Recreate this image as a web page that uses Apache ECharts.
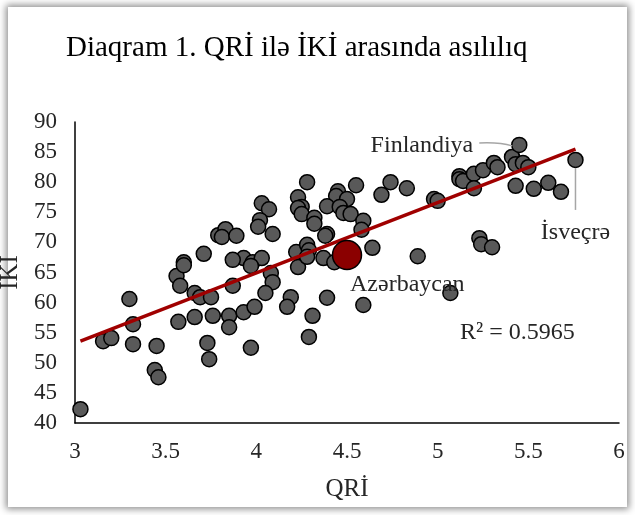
<!DOCTYPE html>
<html>
<head>
<meta charset="utf-8">
<script src="https://cdn.jsdelivr.net/npm/echarts@6/dist/echarts.min.js"></script>
<style>
html,body{margin:0;padding:0;background:#fff;}
#frame{position:absolute;left:8px;top:7px;width:619px;height:500px;background:#fff;box-shadow:0 0 7px 2px rgba(0,0,0,0.45);}
#chart{position:absolute;left:0;top:0;width:635px;height:515px;}
</style>
</head>
<body>
<div id="frame"></div>
<div id="chart"></div>
<script>
// QRİ (x) and İKİ (y) values for countries
const qri = [3.03,3.155,3.20,3.30,3.32,3.32,3.45,3.44,3.46,3.56,3.58,3.60,3.60,3.57,3.66,3.69,3.75,3.87,3.66,3.76,3.85,3.85,3.93,3.99,3.73,3.74,3.97,3.71,3.79,3.83,3.81,3.89,3.93,3.87,3.98,4.03,3.97,4.03,4.07,4.02,4.01,4.09,4.08,4.09,4.05,4.19,4.17,4.23,4.22,4.28,4.29,4.28,4.37,4.43,4.39,4.59,4.31,4.29,4.64,4.89,4.28,4.55,4.74,4.83,4.69,4.45,4.44,4.50,4.23,4.25,4.23,4.25,4.39,4.46,4.48,4.52,4.32,4.32,4.59,4.58,4.39,4.38,4.98,5.00,5.07,5.12,5.12,5.14,5.20,5.25,5.31,5.33,5.20,5.41,5.45,5.43,5.47,5.50,5.43,5.53,5.61,5.68,5.76,5.23,5.24,5.30];
const iki = [42.3,53.6,54.1,60.6,56.4,53.1,52.8,48.8,47.6,64.4,62.8,66.7,66.2,56.8,61.6,60.9,60.9,62.8,57.6,57.8,57.8,55.9,58.4,59.3,53.3,50.6,52.5,68.1,71.2,72.2,70.9,71.1,67.4,67.1,66.7,67.4,66.1,76.5,75.5,73.7,72.6,71.4,64.9,63.4,61.6,60.9,59.3,65.9,68.4,69.6,68.7,67.6,67.4,66.7,60.8,59.6,57.8,54.3,69.1,67.7,80.0,79.5,80.0,79.0,77.9,78.5,77.7,77.2,77.5,75.9,75.7,74.7,76.0,75.9,74.9,74.7,74.1,73.1,73.6,72.1,71.4,71.1,77.2,76.9,61.6,81.0,80.5,80.2,81.4,82.0,83.2,82.5,79.0,84.2,86.2,83.0,83.2,82.5,79.4,78.9,79.9,78.4,83.7,70.7,69.7,69.2];
const azerbaijan = [4.50, 67.9];
const finland = [5.45, 86.2];
const sweden = [5.76, 83.7];
// Linear trend line endpoints
const trendX = [3.03, 5.76];
const trendY = [53.6, 85.5];
const rSquared = 'R² = 0.5965';
const xTicks = [3, 3.5, 4, 4.5, 5, 5.5, 6];
const yTicks = [40, 45, 50, 55, 60, 65, 70, 75, 80, 85, 90];

const FONT = '"Liberation Serif","Times New Roman",serif';
const chart = echarts.init(document.getElementById('chart'), null, {renderer:'canvas'});
const points = qri.map((x, i) => [x, iki[i]]);
const trend = trendX.map((x, i) => [x, trendY[i]]);

chart.setOption({
  backgroundColor: 'transparent',
  animation: false,
  title: {
    text: 'Diaqram 1. QRİ ilə İKİ arasında asılılıq',
    left: 61, top: 29,
    textStyle: {fontFamily: FONT, fontSize: 29, fontWeight: 'normal', color: '#000'}
  },
  grid: {left: 75, right: 16, top: 122, bottom: 92, containLabel: false, outerBoundsMode: 'none'},
  xAxis: {
    type: 'value', min: 3, max: 6, interval: 0.5,
    name: 'QRİ', nameLocation: 'middle', nameGap: 54,
    nameTextStyle: {fontFamily: FONT, fontSize: 25, color: '#262626'},
    axisLine: {show: true, lineStyle: {color: '#000', width: 1.5}},
    axisTick: {show: false},
    splitLine: {show: false},
    axisLabel: {fontFamily: FONT, fontSize: 23, color: '#262626', margin: 17,
      formatter: v => xTicks.includes(v) ? String(v) : ''}
  },
  yAxis: {
    type: 'value', min: 40, max: 90, interval: 5,
    name: 'İKİ', nameLocation: 'middle', nameGap: 43, nameRotate: 90,
    nameTextStyle: {fontFamily: FONT, fontSize: 25, color: '#262626'},
    axisLine: {show: true, lineStyle: {color: '#000', width: 1.5}},
    axisTick: {show: false},
    splitLine: {show: false},
    axisLabel: {fontFamily: FONT, fontSize: 23, color: '#262626', margin: 18,
      formatter: v => yTicks.includes(v) ? String(v) : ''}
  },
  series: [
    {
      type: 'scatter', data: points, symbolSize: 15, z: 2,
      itemStyle: {color: '#595959', borderColor: '#000', borderWidth: 1.5, opacity: 1}
    },
    {
      type: 'line', data: trend, symbol: 'none', z: 3,
      lineStyle: {color: '#A00000', width: 3.5}
    },
    {
      type: 'scatter', data: [azerbaijan], symbolSize: 29, z: 4,
      itemStyle: {color: '#8B0000', borderColor: '#000', borderWidth: 1.5, opacity: 1}
    }
  ]
});

function px(p){ return chart.convertToPixel({gridIndex: 0}, p); }
const pf = px(finland), ps = px(sweden), pa = px(azerbaijan), pr = px([5.44, 55]);
const txt = {fontFamily: FONT, fontSize: 24, fill: '#262626'};
chart.setOption({
  graphic: [
    {type: 'bezierCurve', z: 10, shape: {x1: pf[0]-40, y1: pf[1]-2, x2: pf[0]-7, y2: pf[1]+1, cpx1: pf[0]-20, cpy1: pf[1]-3},
      style: {stroke: '#A6A6A6', lineWidth: 1.5, fill: null}},
    {type: 'text', z: 10, x: pf[0]-46, y: pf[1]+1, style: Object.assign({text: 'Finlandiya', align: 'right', verticalAlign: 'middle'}, txt)},
    {type: 'line', z: 10, shape: {x1: ps[0], y1: ps[1]+8, x2: ps[0], y2: ps[1]+50}, style: {stroke: '#A6A6A6', lineWidth: 1.5}},
    {type: 'text', z: 10, x: ps[0], y: ps[1]+73, style: Object.assign({text: 'İsveçrə', align: 'center', verticalAlign: 'middle'}, txt)},
    {type: 'text', z: 10, x: pa[0]+3, y: pa[1]+30, style: Object.assign({text: 'Azərbaycan', align: 'left', verticalAlign: 'middle'}, txt)},
    {type: 'text', z: 10, x: pr[0], y: pr[1], style: Object.assign({text: rSquared, align: 'center', verticalAlign: 'middle'}, txt)}
  ]
});
</script>
</body>
</html>
